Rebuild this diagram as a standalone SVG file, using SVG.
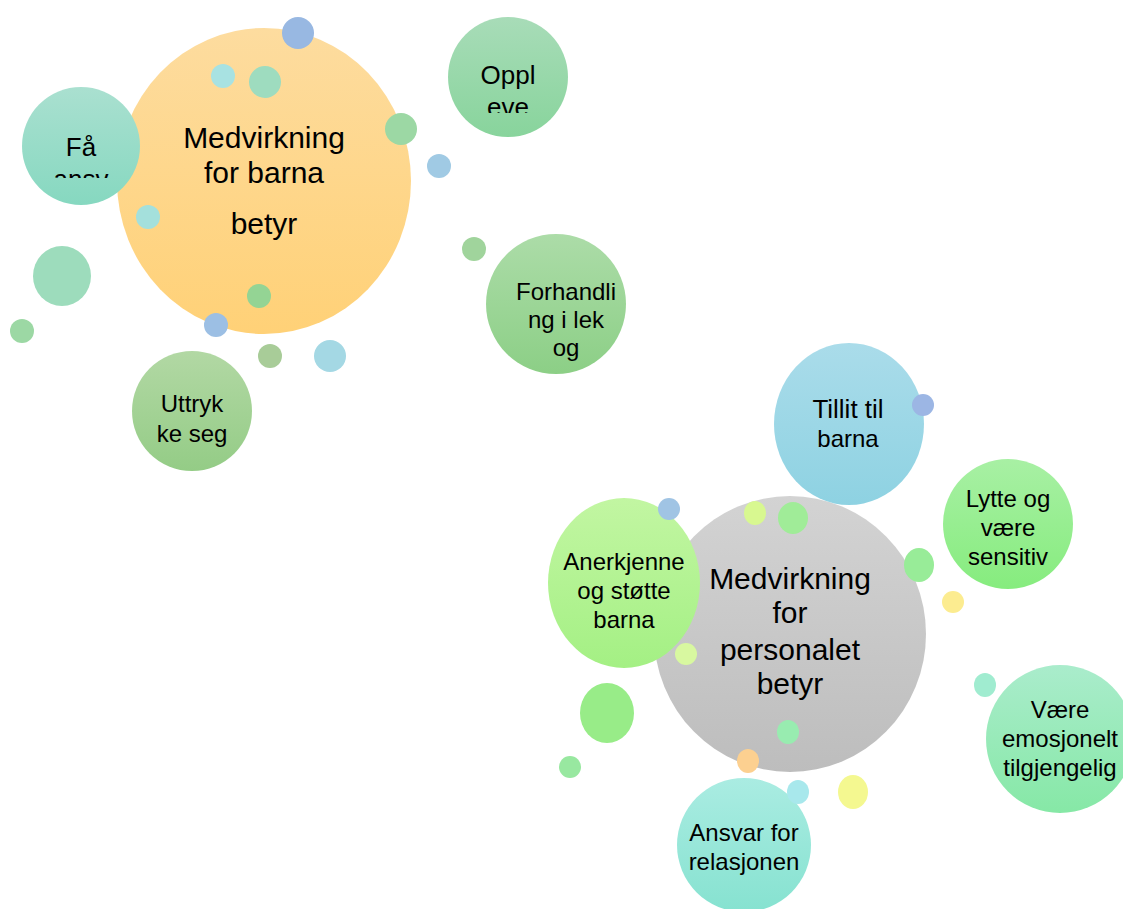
<svg xmlns="http://www.w3.org/2000/svg" width="1123" height="909" viewBox="0 0 1123 909">
<style>
text{font-family:"Liberation Sans",Arial,sans-serif;fill:#000;text-anchor:middle}
.big{font-size:30px}
.mid{font-size:26px}
.sm{font-size:24px}
</style>
<defs>
<linearGradient id="gOrange" x1="0" y1="0" x2="0" y2="1"><stop offset="0" stop-color="#fddc9f"/><stop offset="1" stop-color="#ffd177"/></linearGradient>
<linearGradient id="gGray" x1="0" y1="0" x2="0" y2="1"><stop offset="0" stop-color="#d3d3d3"/><stop offset="1" stop-color="#bdbdbd"/></linearGradient>
<linearGradient id="gTeal" x1="0" y1="0" x2="0" y2="1"><stop offset="0" stop-color="#aae0d0"/><stop offset="1" stop-color="#86d8c0"/></linearGradient>
<linearGradient id="gGreen1" x1="0" y1="0" x2="0" y2="1"><stop offset="0" stop-color="#a8dcb8"/><stop offset="1" stop-color="#88d49c"/></linearGradient>
<linearGradient id="gGreen2" x1="0" y1="0" x2="0" y2="1"><stop offset="0" stop-color="#acdca8"/><stop offset="1" stop-color="#8ccf86"/></linearGradient>
<linearGradient id="gOlive" x1="0" y1="0" x2="0" y2="1"><stop offset="0" stop-color="#b2d8a4"/><stop offset="1" stop-color="#94cc86"/></linearGradient>
<linearGradient id="gBlue" x1="0" y1="0" x2="0" y2="1"><stop offset="0" stop-color="#aadcea"/><stop offset="1" stop-color="#8ed2e2"/></linearGradient>
<linearGradient id="gLytte" x1="0" y1="0" x2="0" y2="1"><stop offset="0" stop-color="#a8f0a4"/><stop offset="1" stop-color="#86ec7e"/></linearGradient>
<linearGradient id="gAner" x1="0" y1="0" x2="0" y2="1"><stop offset="0" stop-color="#c2f6a2"/><stop offset="1" stop-color="#a4f084"/></linearGradient>
<linearGradient id="gVaere" x1="0" y1="0" x2="0" y2="1"><stop offset="0" stop-color="#aaeccc"/><stop offset="1" stop-color="#86e8a6"/></linearGradient>
<linearGradient id="gAnsvar" x1="0" y1="0" x2="0" y2="1"><stop offset="0" stop-color="#aaece2"/><stop offset="1" stop-color="#86e2d0"/></linearGradient>
<clipPath id="clipFa"><rect x="20" y="80" width="125" height="98"/></clipPath>
<clipPath id="clipOppl"><rect x="445" y="10" width="130" height="103"/></clipPath>
</defs>

<g id="connectors"/>

<g id="node-barna">
<ellipse cx="264" cy="181" rx="147" ry="153" fill="url(#gOrange)"/>
<text class="big" x="264" y="148">Medvirkning</text>
<text class="big" x="264" y="183">for barna</text>
<text class="big" x="264" y="234">betyr</text>
</g>

<g id="node-fa">
<circle cx="81" cy="146" r="59" fill="url(#gTeal)"/>
<g clip-path="url(#clipFa)">
<text class="mid" x="81" y="156">Få</text>
<text class="mid" x="81" y="188">ansv</text>
</g>
</g>

<g id="node-oppleve">
<circle cx="508" cy="77" r="60" fill="url(#gGreen1)"/>
<g clip-path="url(#clipOppl)">
<text class="mid" x="508" y="84">Oppl</text>
<text class="mid" x="508" y="116">eve</text>
</g>
</g>

<g id="node-forhandling">
<circle cx="556" cy="304" r="70" fill="url(#gGreen2)"/>
<text class="sm" x="566" y="300">Forhandli</text>
<text class="sm" x="566" y="328">ng i lek</text>
<text class="sm" x="566" y="356">og</text>
</g>

<g id="node-uttrykke">
<circle cx="192" cy="411" r="60" fill="url(#gOlive)"/>
<text class="sm" x="192" y="412">Uttryk</text>
<text class="sm" x="192" y="442">ke seg</text>
</g>

<g id="dots-barna">
<circle cx="298" cy="33" r="16" fill="#98b8e2"/>
<circle cx="223" cy="76" r="12" fill="#a8e2e2"/>
<circle cx="265" cy="82" r="16" fill="#9edcbf"/>
<circle cx="401" cy="129" r="16" fill="#9cd8a4"/>
<circle cx="439" cy="166" r="12" fill="#a0cae4"/>
<circle cx="148" cy="217" r="12" fill="#a4e0dc"/>
<ellipse cx="62" cy="276" rx="29" ry="30" fill="#9ddcbc"/>
<circle cx="22" cy="331" r="12" fill="#9cd8a4"/>
<circle cx="259" cy="296" r="12" fill="#94d494"/>
<circle cx="216" cy="325" r="12" fill="#9cbfe4"/>
<circle cx="270" cy="356" r="12" fill="#a8cc98"/>
<circle cx="330" cy="356" r="16" fill="#a4d8e4"/>
<circle cx="474" cy="249" r="12" fill="#a0d49c"/>
</g>

<g id="node-personalet">
<ellipse cx="790" cy="634" rx="136" ry="138" fill="url(#gGray)"/>
<text class="big" x="790" y="589">Medvirkning</text>
<text class="big" x="790" y="623">for</text>
<text class="big" x="790" y="660">personalet</text>
<text class="big" x="790" y="694">betyr</text>
</g>

<g id="node-tillit">
<ellipse cx="849" cy="424" rx="75" ry="81" fill="url(#gBlue)"/>
<text class="sm" x="848" y="418" style="font-size:26px">Tillit til</text>
<text class="sm" x="848" y="447">barna</text>
</g>

<g id="node-lytte">
<circle cx="1008" cy="524" r="65" fill="url(#gLytte)"/>
<text class="sm" x="1008" y="507">Lytte og</text>
<text class="sm" x="1008" y="536">være</text>
<text class="sm" x="1008" y="565">sensitiv</text>
</g>

<g id="node-anerkjenne">
<ellipse cx="624" cy="583" rx="76" ry="85" fill="url(#gAner)"/>
<text class="sm" x="624" y="570">Anerkjenne</text>
<text class="sm" x="624" y="599">og støtte</text>
<text class="sm" x="624" y="628">barna</text>
</g>

<g id="node-vaere">
<circle cx="1060" cy="739" r="74" fill="url(#gVaere)"/>
<text class="sm" x="1060" y="718">Være</text>
<text class="sm" x="1060" y="747">emosjonelt</text>
<text class="sm" x="1060" y="776">tilgjengelig</text>
</g>

<g id="node-ansvar">
<circle cx="744" cy="845" r="67" fill="url(#gAnsvar)"/>
<text class="sm" x="744" y="841">Ansvar for</text>
<text class="sm" x="744" y="870">relasjonen</text>
</g>

<g id="dots-personalet">
<circle cx="923" cy="405" r="11" fill="#9cb6e4"/>
<circle cx="669" cy="509" r="11" fill="#a0c4e4"/>
<ellipse cx="755" cy="513" rx="11" ry="12" fill="#d8f890"/>
<ellipse cx="793" cy="518" rx="15" ry="16" fill="#a0ec98"/>
<ellipse cx="919" cy="565" rx="15" ry="17" fill="#98ec98"/>
<circle cx="953" cy="602" r="11" fill="#fcec90"/>
<circle cx="686" cy="654" r="11" fill="#d8f8a0"/>
<ellipse cx="607" cy="713" rx="27" ry="30" fill="#98ec88"/>
<circle cx="570" cy="767" r="11" fill="#98e8a0"/>
<ellipse cx="788" cy="732" rx="11" ry="12" fill="#98ecb0"/>
<ellipse cx="748" cy="761" rx="11" ry="12" fill="#fcd090"/>
<ellipse cx="798" cy="792" rx="11" ry="12" fill="#a8e8ec"/>
<ellipse cx="853" cy="792" rx="15" ry="17" fill="#f4f890"/>
<ellipse cx="985" cy="685" rx="11" ry="12" fill="#a0ecd0"/>
</g>
</svg>
